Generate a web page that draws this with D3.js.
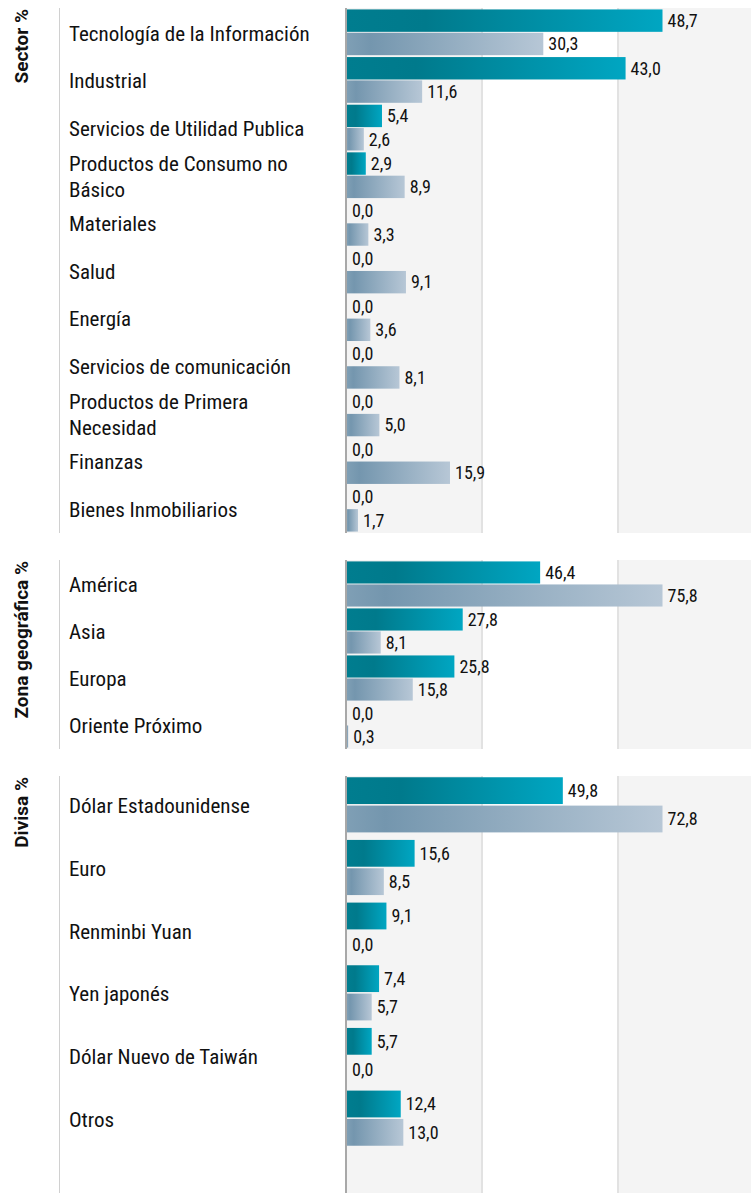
<!DOCTYPE html>
<html>
<head>
<meta charset="utf-8">
<script src="https://cdn.jsdelivr.net/npm/d3@7"></script>
<style>
  body { margin: 0; background: #fff; }
  svg { display: block; }
  .lbl { font-family: "Roboto Condensed", "Liberation Sans Narrow", "DejaVu Sans Condensed", Roboto, sans-serif; fill: #111; }
  .ttl { font-family: Roboto, "Noto Sans", sans-serif; font-weight: 700; fill: #111; }
</style>
</head>
<body>
<div id="container"></div>
<script>
// sector
var sectorCats = ["Tecnología de la Información", "Industrial", "Servicios de Utilidad Publica",
  "Productos de Consumo no\nBásico", "Materiales", "Salud", "Energía", "Servicios de comunicación",
  "Productos de Primera\nNecesidad", "Finanzas", "Bienes Inmobiliarios"]
var sectorFund = [48.7, 43.0, 5.4, 2.9, 0.0, 0.0, 0.0, 0.0, 0.0, 0.0, 0.0]
var sectorBench = [30.3, 11.6, 2.6, 8.9, 3.3, 9.1, 3.6, 8.1, 5.0, 15.9, 1.7]

// zona geografica
var geoCats = ["América", "Asia", "Europa", "Oriente Próximo"]
var geoFund = [46.4, 27.8, 25.8, 0.0]
var geoBench = [75.8, 8.1, 15.8, 0.3]

// divisa
var curCats = ["Dólar Estadounidense", "Euro", "Renminbi Yuan", "Yen japonés", "Dólar Nuevo de Taiwán", "Otros"]
var curFund = [49.8, 15.6, 9.1, 7.4, 5.7, 12.4]
var curBench = [72.8, 8.5, 0.0, 5.7, 0.0, 13.0]

var sections = [
  { title: "Sector %", cats: sectorCats, fund: sectorFund, bench: sectorBench,
    top: 8, bandBottom: 533, bottom: 533, padIn: 0.04, padOut: 0.03, barGap: 0.04 },
  { title: "Zona geográfica %", cats: geoCats, fund: geoFund, bench: geoBench,
    top: 560, bandBottom: 749, bottom: 749, padIn: 0.04, padOut: 0.03, barGap: 0.04 },
  { title: "Divisa %", cats: curCats, fund: curFund, bench: curBench,
    top: 776, bandBottom: 1147, bottom: 1193, padIn: 0.12, padOut: 0.02, barGap: 0.055 }
]

var width = 751, height = 1193
var labelX = 69, lineX = 59, plotLeft = 346, plotRight = 754

var svg = d3.select("#container").append("svg")
  .attr("width", width)
  .attr("height", height)

var defs = svg.append("defs")
function grad(id, stops) {
  var g = defs.append("linearGradient").attr("id", id)
    .attr("x1", 0).attr("x2", 1).attr("y1", 0).attr("y2", 0)
  stops.forEach(s => g.append("stop").attr("offset", s[0]).attr("stop-color", s[1]))
}
grad("gFund", [["0%", "#007d8f"], ["25%", "#007a8c"], ["100%", "#00a6c2"]])
grad("gBench", [["0%", "#7f9fb5"], ["12%", "#7496ae"], ["100%", "#b7c7d6"]])

sections.forEach(function (sec) {
  var g = svg.append("g")

  // background bands + grid
  var bandW = (plotRight - plotLeft) / 3
  var bands = d3.range(3)
  g.selectAll(".bg").data(bands).enter().append("rect")
    .attr("x", d => plotLeft + d * bandW)
    .attr("y", sec.top)
    .attr("width", bandW)
    .attr("height", sec.bottom - sec.top)
    .attr("fill", d => d % 2 == 0 ? "#f4f4f4" : "#fff")
  g.selectAll(".grid").data([1, 2]).enter().append("line")
    .attr("x1", d => plotLeft + d * bandW).attr("x2", d => plotLeft + d * bandW)
    .attr("y1", sec.top).attr("y2", sec.bottom)
    .attr("stroke", "#e2e2e2").attr("stroke-width", 2)

  g.append("line")
    .attr("x1", lineX + 0.5).attr("x2", lineX + 0.5)
    .attr("y1", sec.top).attr("y2", sec.bottom)
    .attr("stroke", "#d0d0d0").attr("stroke-width", 1)

  var y = d3.scaleBand()
    .domain(sec.cats)
    .range([sec.top, sec.bandBottom])
    .paddingInner(sec.padIn)
    .paddingOuter(sec.padOut)

  var sub = d3.scaleBand()
    .domain(["fund", "bench"])
    .range([0, y.bandwidth()])
    .paddingInner(sec.barGap)

  var max = d3.max(sec.fund.concat(sec.bench))
  var x = d3.scaleLinear()
    .domain([0, max * 1.29])
    .range([plotLeft + 1, plotRight])

  var rows = sec.cats.map((c, i) => ({ cat: c, fund: sec.fund[i], bench: sec.bench[i] }))

  var row = g.selectAll(".row").data(rows).enter().append("g")
    .attr("class", "row")

  ;["fund", "bench"].forEach(function (k) {
    row.append("rect")
      .attr("x", x(0))
      .attr("y", d => y(d.cat) + sub(k))
      .attr("width", d => x(d[k]) - x(0))
      .attr("height", sub.bandwidth())
      .attr("fill", k == "fund" ? "url(#gFund)" : "url(#gBench)")

    row.append("text")
      .attr("class", "lbl")
      .attr("x", d => x(d[k]) + 5)
      .attr("y", d => y(d.cat) + sub(k) + sub.bandwidth() / 2)
      .attr("dy", "0.35em")
      .attr("font-size", 18)
      .text(d => d3.format(".1f")(d[k]).replace(".", ","))
  })

  row.append("text")
    .attr("class", "lbl")
    .attr("font-size", 21)
    .each(function (d) {
      var lines = d.cat.split("\n")
      var lh = 26
      var cy = y(d.cat) + y.bandwidth() / 2 - (lines.length - 1) * lh / 2
      var t = d3.select(this)
      lines.forEach(function (l, i) {
        t.append("tspan").attr("x", labelX).attr("y", cy + i * lh + 1).attr("dy", "0.35em").text(l)
      })
    })

  // axis line
  g.append("line")
    .attr("x1", plotLeft).attr("x2", plotLeft)
    .attr("y1", sec.top).attr("y2", sec.bottom)
    .attr("stroke", "#a8a8a8").attr("stroke-width", 2)

  g.append("text")
    .attr("class", "ttl")
    .attr("font-size", 19)
    .attr("text-anchor", "end")
    .attr("transform", "translate(28," + (sec.top + 1) + ") rotate(-90)")
    .text(sec.title)
})
</script>
</body>
</html>
